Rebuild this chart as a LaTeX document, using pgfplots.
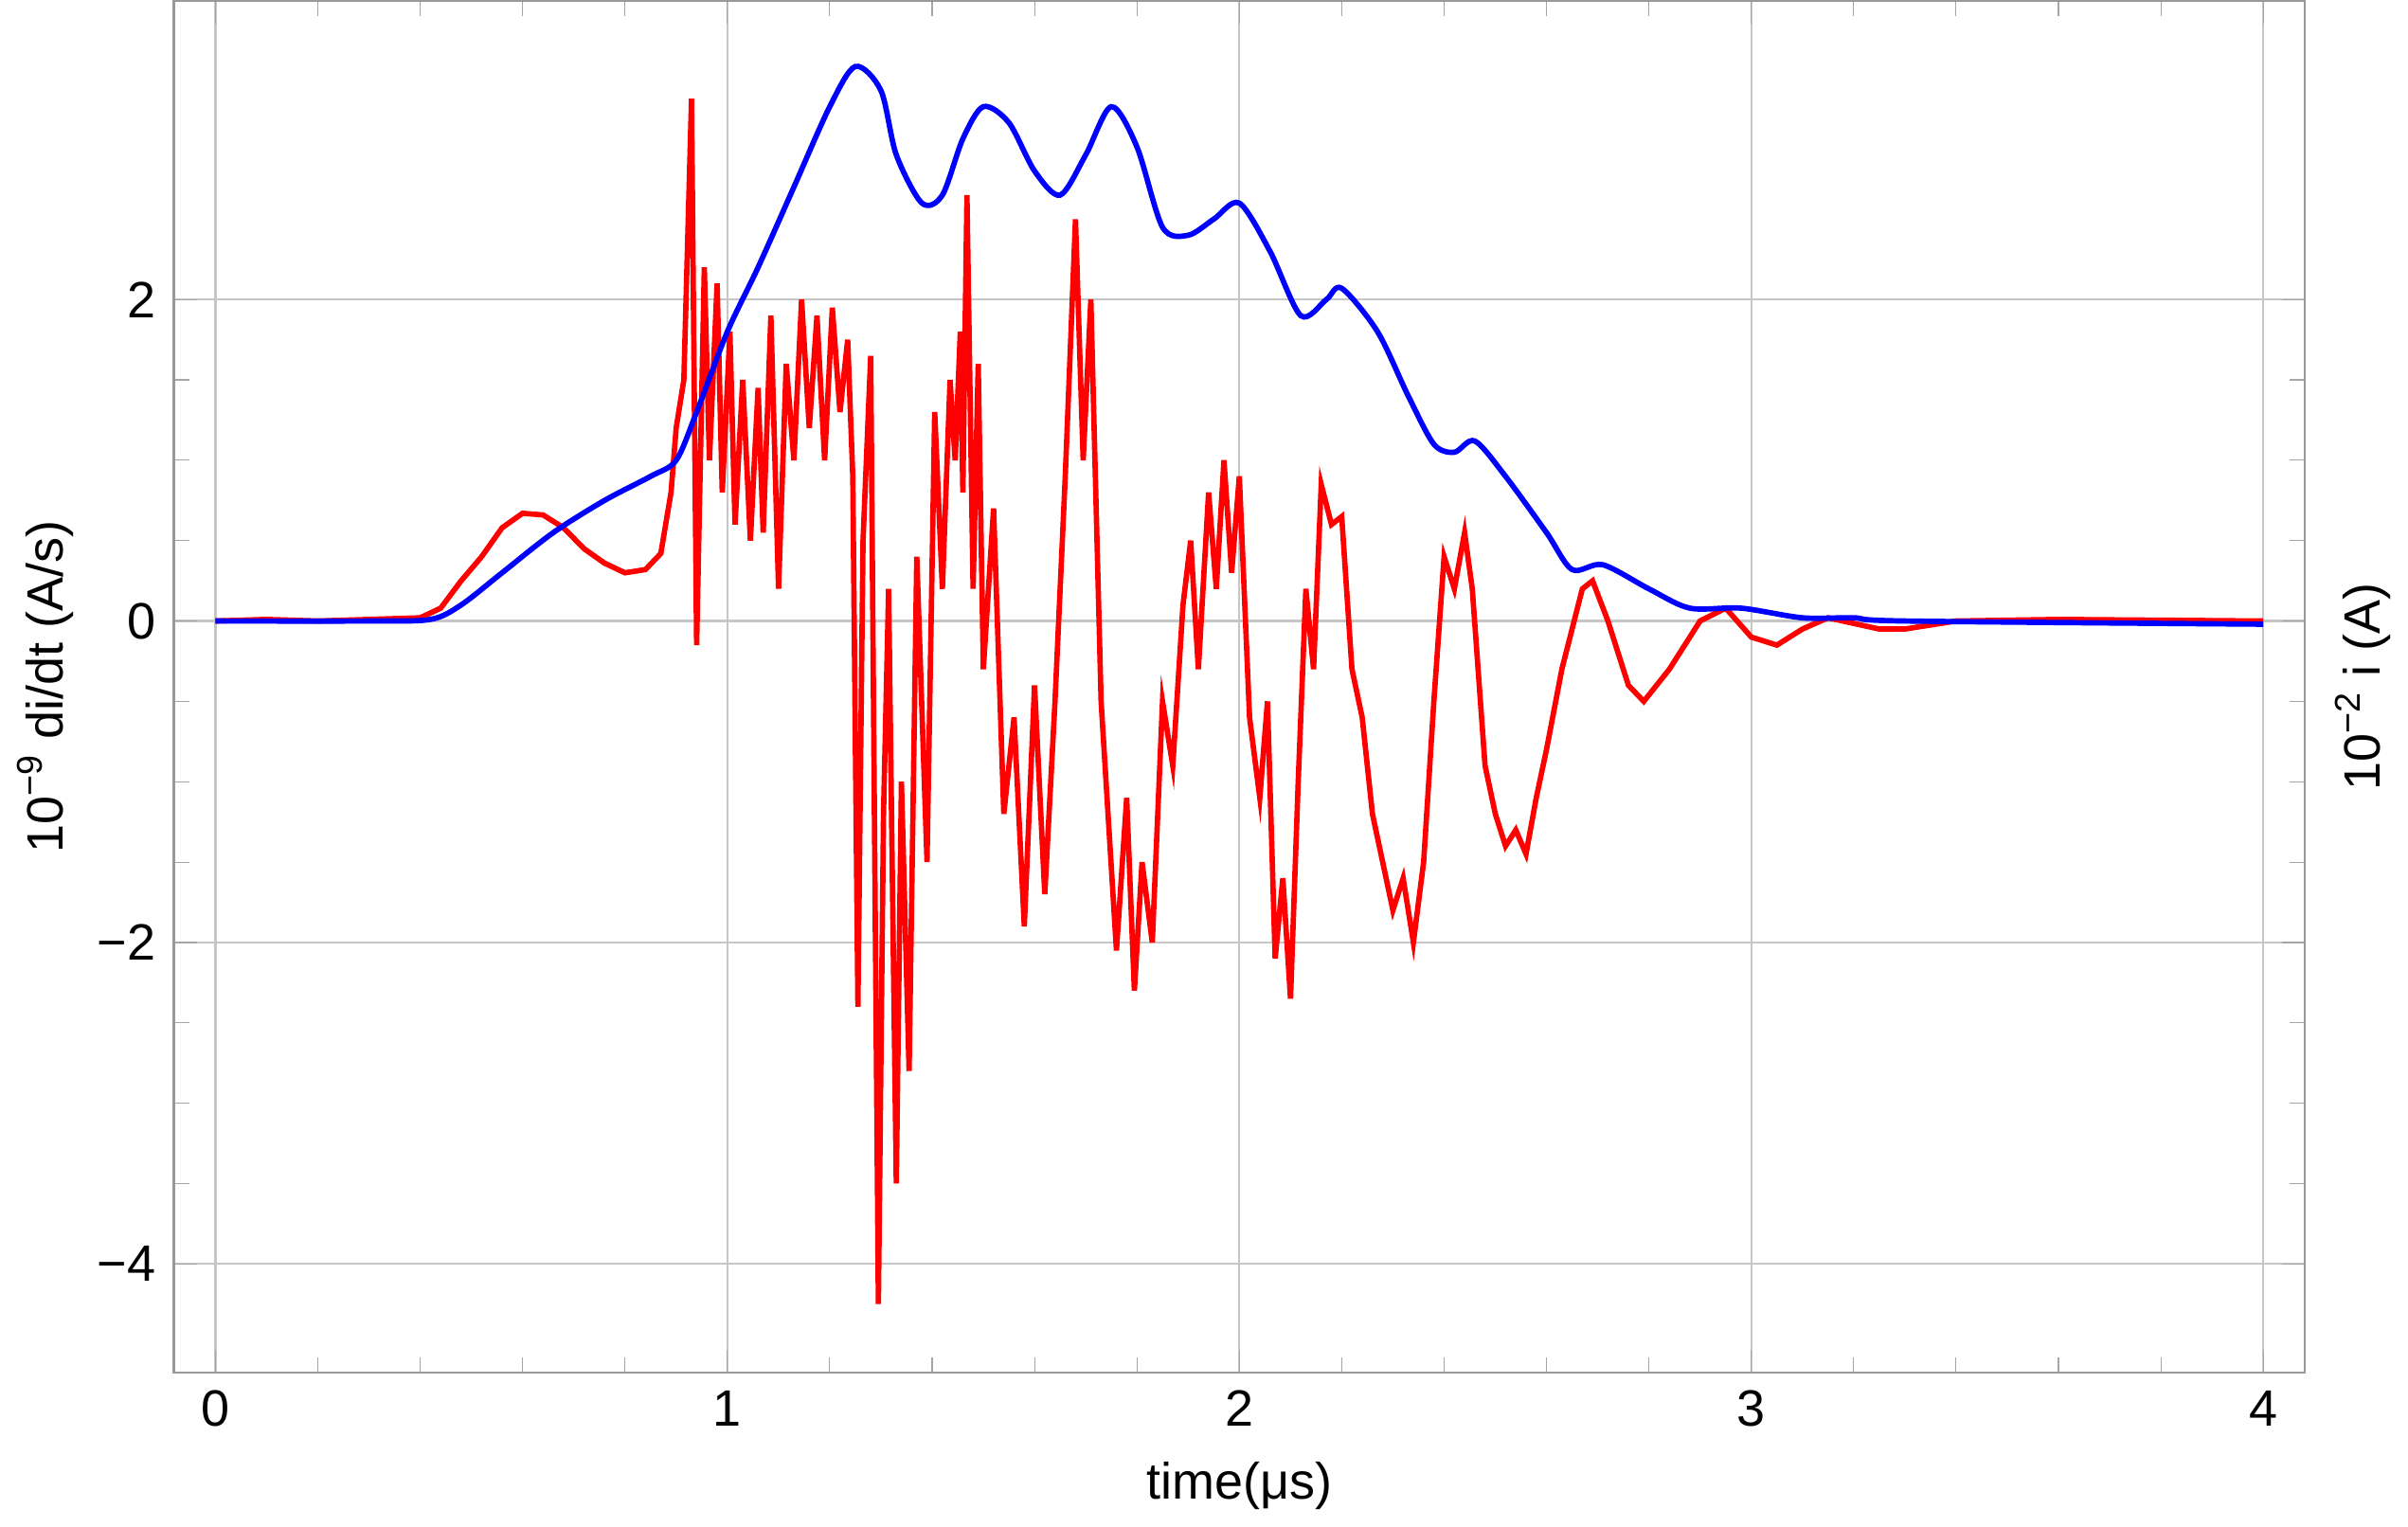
\documentclass[border=0pt]{standalone}
\usepackage{pgfplots}
\pgfplotsset{compat=1.18}
\usepackage{fontspec}
\setmainfont{Liberation Sans}
\begin{document}
\fontsize{9.5}{11}\selectfont
\begin{tikzpicture}
\begin{axis}[scale only axis, width=13.92cm, height=8.96cm,
 xmin=-0.081, xmax=4.081, ymin=-4.676, ymax=3.857,
 xtick={0,1,2,3,4}, ytick={-4,-2,0,2}, yticklabels={−4,−2,0,2},
 minor x tick num=4, minor y tick num=3,
 grid=major, major grid style={gray!45, line width=0.4pt},
 axis line style={gray!80}, tick style={gray!70},
 ytick pos=both, xtick pos=both, yticklabel pos=left, xticklabel pos=bottom,
 tick align=inside,
 /pgf/number format/assume math mode=true,
 xlabel={time(μs)}, ylabel={10\textsuperscript{−9} di/dt (A/s)},
 ylabel style={yshift=-2pt},
 clip=true]
\addplot[red, line width=1pt] coordinates {
(0,0) (0.1,0.01) (0.2,0) (0.3,0.01) (0.4,0.02) (0.44,0.08) (0.48,0.25) (0.52,0.4) (0.56,0.58) (0.6,0.67) (0.64,0.66) (0.68,0.58) (0.72,0.45) (0.76,0.36) (0.8,0.3) (0.84,0.32) (0.87,0.42) (0.89,0.8) (0.9,1.2) (0.915,1.5) (0.93,3.25) (0.94,-0.15) (0.955,2.2) (0.965,1.0) (0.98,2.1) (0.99,0.8) (1.005,1.8) (1.015,0.6) (1.03,1.5) (1.045,0.5) (1.06,1.45) (1.07,0.55) (1.085,1.9) (1.1,0.2) (1.115,1.6) (1.13,1.0) (1.145,2.0) (1.16,1.2) (1.175,1.9) (1.19,1.0) (1.205,1.95) (1.22,1.3) (1.235,1.75) (1.245,0.9) (1.255,-2.4) (1.265,0.5) (1.28,1.65) (1.295,-4.25) (1.305,-1.2) (1.315,0.2) (1.33,-3.5) (1.34,-1.0) (1.355,-2.8) (1.37,0.4) (1.39,-1.5) (1.405,1.3) (1.42,0.2) (1.435,1.5) (1.445,1.0) (1.455,1.8) (1.46,0.8) (1.468,2.65) (1.48,0.2) (1.49,1.6) (1.5,-0.3) (1.52,0.7) (1.54,-1.2) (1.56,-0.6) (1.58,-1.9) (1.6,-0.4) (1.62,-1.7) (1.64,-0.5) (1.66,0.9) (1.68,2.5) (1.695,1.0) (1.71,2.0) (1.73,-0.5) (1.76,-2.05) (1.78,-1.1) (1.795,-2.3) (1.81,-1.5) (1.83,-2.0) (1.85,-0.5) (1.87,-0.9) (1.89,0.1) (1.905,0.5) (1.92,-0.3) (1.94,0.8) (1.955,0.2) (1.97,1.0) (1.985,0.3) (2.0,0.9) (2.02,-0.6) (2.04,-1.1) (2.055,-0.5) (2.07,-2.1) (2.085,-1.6) (2.1,-2.35) (2.115,-1.0) (2.13,0.2) (2.145,-0.3) (2.16,0.85) (2.18,0.6) (2.2,0.65) (2.22,-0.3) (2.24,-0.6) (2.26,-1.2) (2.28,-1.5) (2.3,-1.8) (2.32,-1.6) (2.34,-2.0) (2.36,-1.5) (2.38,-0.5) (2.4,0.4) (2.42,0.2) (2.44,0.55) (2.455,0.2) (2.48,-0.9) (2.5,-1.2) (2.52,-1.4) (2.54,-1.3) (2.56,-1.45) (2.58,-1.1) (2.6,-0.8) (2.63,-0.3) (2.67,0.2) (2.69,0.25) (2.72,0.0) (2.76,-0.4) (2.79,-0.5) (2.84,-0.3) (2.9,0.0) (2.95,0.08) (3.0,-0.1) (3.05,-0.15) (3.1,-0.05) (3.15,0.02) (3.25,-0.05) (3.3,-0.05) (3.4,0) (3.6,0.01) (4,0)};
\addplot[blue, line width=1pt, smooth] coordinates {
(0,0) (0.3,0) (0.42,0.01) (0.48,0.1) (0.56,0.3) (0.66,0.55) (0.76,0.75) (0.85,0.9) (0.9,1.0) (0.94,1.3) (1.0,1.8) (1.06,2.2) (1.13,2.7) (1.2,3.2) (1.25,3.45) (1.3,3.3) (1.33,2.9) (1.38,2.6) (1.42,2.65) (1.46,3.0) (1.5,3.2) (1.55,3.1) (1.6,2.8) (1.65,2.65) (1.7,2.9) (1.75,3.2) (1.8,2.95) (1.85,2.45) (1.9,2.4) (1.95,2.5) (2.0,2.6) (2.06,2.3) (2.12,1.9) (2.17,2.0) (2.2,2.07) (2.27,1.8) (2.33,1.4) (2.38,1.1) (2.42,1.05) (2.46,1.12) (2.52,0.9) (2.6,0.55) (2.65,0.32) (2.71,0.35) (2.8,0.2) (2.88,0.08) (2.98,0.08) (3.1,0.02) (3.2,0.02) (3.3,0) (4,-0.02)};
\end{axis}
\node[rotate=90] at (14.3cm,4.48cm) {10\textsuperscript{−2} i (A)};
\end{tikzpicture}
\end{document}
